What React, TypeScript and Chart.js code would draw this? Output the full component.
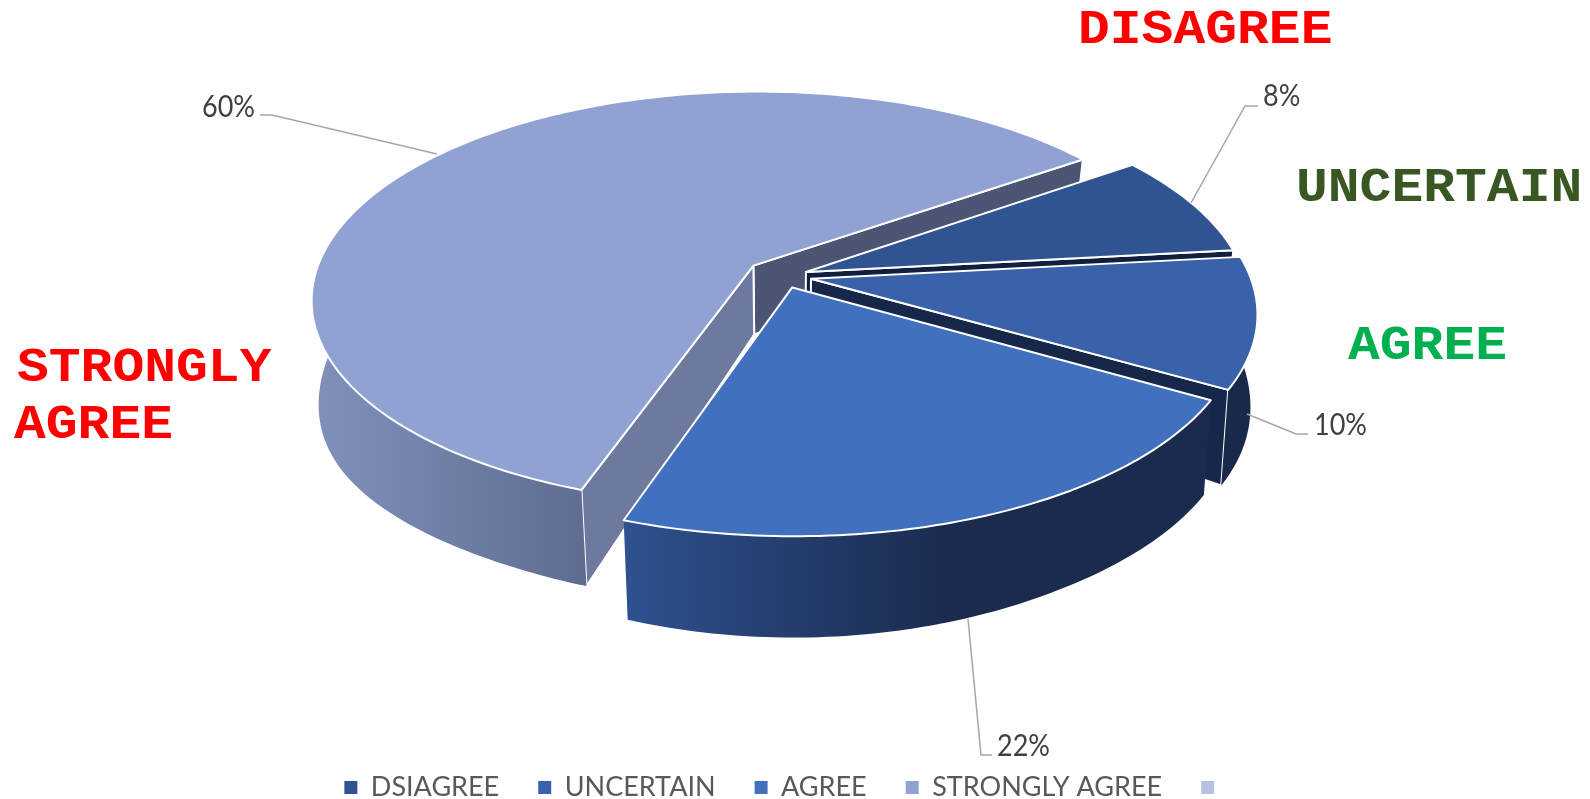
import React, { useEffect, useRef } from "react";
import { Chart, registerables } from "chart.js";

Chart.register(...registerables);

const CATEGORIES = ["DSIAGREE", "UNCERTAIN", "AGREE", "STRONGLY AGREE", ""];
const VALUES = [8, 10, 22, 60, 0];
const PERCENT_LABELS = ["8%", "10%", "22%", "60%"];
const TOP_COLORS = ["#305392", "#3A62AA", "#4170BF", "#8FA2D2", "#B4C1E4"];
const EXPLODE = [0.056, 0.065, 0.059, 0.085, 0];
const OUTER_WALL_STOPS = [
  ["#15254A", "#15254A"],
  ["#18294A", "#18294A"],
  ["#2F518F", "#1A2B4E"],
  ["#8191BC", "#5F6D91"],
  ["#000000", "#000000"],
];
const START_WALL = [null, null, null, "#6D7A9E", null];
const END_WALL = ["#101F3D", "#16274A", null, "#4C5674", null];
const LEADERS = [
  [[1191, 203], [1245, 106], [1258, 106]],
  [[1247, 414], [1296, 434], [1308, 434]],
  [[968, 619], [981, 755], [992, 755]],
  [[437, 154], [272, 115], [260, 115]],
];
const PERCENT_POS = [[1263, 96], [1314, 425], [997, 746], [202, 107]];
const CALLOUTS = [
  { text: "DISAGREE", x: 1078, y: 31, color: "#FF0000" },
  { text: "UNCERTAIN", x: 1296, y: 189, color: "#385723" },
  { text: "AGREE", x: 1348, y: 347, color: "#00B050" },
  { text: "STRONGLY", x: 17, y: 369, color: "#FF0000" },
  { text: "AGREE", x: 14, y: 426, color: "#FF0000" },
];

const VIEW = { cx: 783, cy: 276, R: 439, Rsy: 205, k: 0.16, H: 70, shrink: 0.975, maxShift: 7, sideL: 0.35, sideR: 0.2 };

function project(u: number, v: number, bottom: boolean): [number, number] {
  const w = 1 - VIEW.k * v;
  let x = VIEW.cx + (VIEW.R * u) / w;
  let y = VIEW.cy + (VIEW.Rsy * v) / w;
  if (bottom) {
    const dx = x - VIEW.cx;
    const shift = Math.min(Math.abs(dx) * (1 - VIEW.shrink), VIEW.maxShift);
    x -= Math.sign(dx) * shift;
    const side = 1 + (u < 0 ? VIEW.sideL : VIEW.sideR) * u * u * u * u;
    y += (VIEW.H * side) / (w * w);
  }
  return [x, y];
}

function tracePath(ctx: CanvasRenderingContext2D, pts: [number, number][]) {
  ctx.beginPath();
  pts.forEach((p, i) => (i ? ctx.lineTo(p[0], p[1]) : ctx.moveTo(p[0], p[1])));
  ctx.closePath();
}

function stretchedText(ctx: CanvasRenderingContext2D, t: string, x: number, y: number, sy: number) {
  ctx.save();
  ctx.translate(x, y);
  ctx.scale(1, sy);
  ctx.fillText(t, 0, 0);
  ctx.restore();
}

const pie3d = {
  id: "pie3d",
  beforeDatasetsDraw(chart: any) {
    const ctx: CanvasRenderingContext2D = chart.ctx;
    const arcs = chart.getDatasetMeta(0).data;
    const order = [3, 0, 1, 2];
    ctx.save();
    ctx.lineJoin = "round";
    for (const i of order) {
      const el = arcs[i];
      const { startAngle, endAngle } = el.getProps(["startAngle", "endAngle"], true);
      if (endAngle - startAngle <= 0) continue;
      const mid = (startAngle + endAngle) / 2;
      const ou = EXPLODE[i] * Math.cos(mid);
      const ov = EXPLODE[i] * Math.sin(mid);
      const n = Math.ceil(((endAngle - startAngle) * 180) / Math.PI);
      const top: [number, number][] = [];
      const frontTop: [number, number][] = [];
      const frontBot: [number, number][] = [];
      const bot: [number, number][] = [];
      for (let s = 0; s <= n; s++) {
        const a = startAngle + ((endAngle - startAngle) * s) / n;
        const u = ou + Math.cos(a);
        const v = ov + Math.sin(a);
        const pt = project(u, v, false);
        const pb = project(u, v, true);
        top.push(pt);
        bot.push(pb);
        if (Math.sin(a) > -0.05) {
          frontTop.push(pt);
          frontBot.push(pb);
        }
      }
      const apexT = project(ou, ov, false);
      const apexB = project(ou, ov, true);
      ctx.strokeStyle = "#FFFFFF";
      ctx.lineWidth = 2;
      if (END_WALL[i]) {
        tracePath(ctx, [apexT, top[n], bot[n], apexB]);
        ctx.fillStyle = END_WALL[i] as string;
        ctx.fill();
        ctx.stroke();
      }
      if (START_WALL[i]) {
        tracePath(ctx, [apexT, top[0], bot[0], apexB]);
        ctx.fillStyle = START_WALL[i] as string;
        ctx.fill();
        ctx.stroke();
      }
      if (frontTop.length > 1) {
        const xs = frontTop.map((p) => p[0]);
        const x0 = Math.min(...xs);
        const x1 = Math.max(...xs);
        const g = ctx.createLinearGradient(x0, 0, i === 2 ? x0 + (x1 - x0) * 0.55 : x1, 0);
        g.addColorStop(0, OUTER_WALL_STOPS[i][0]);
        g.addColorStop(1, OUTER_WALL_STOPS[i][1]);
        tracePath(ctx, [...frontTop, ...frontBot.slice().reverse()]);
        ctx.fillStyle = g;
        ctx.fill();
      }
      tracePath(ctx, [apexT, ...top]);
      ctx.fillStyle = el.options.backgroundColor;
      ctx.fill();
      ctx.stroke();
    }
    ctx.restore();
    return false;
  },
  afterDraw(chart: any) {
    const ctx: CanvasRenderingContext2D = chart.ctx;
    ctx.save();
    ctx.strokeStyle = "#A6A6A6";
    ctx.lineWidth = 1.5;
    LEADERS.forEach((l) => {
      ctx.beginPath();
      l.forEach((p, i) => (i ? ctx.lineTo(p[0], p[1]) : ctx.moveTo(p[0], p[1])));
      ctx.stroke();
    });
    ctx.fillStyle = "#404040";
    ctx.font = "27px Lato";
    ctx.textBaseline = "middle";
    ctx.textAlign = "left";
    PERCENT_LABELS.forEach((t, i) => stretchedText(ctx, t, PERCENT_POS[i][0], PERCENT_POS[i][1], 1.12));
    ctx.font = "bold 53px 'Liberation Mono'";
    CALLOUTS.forEach((c) => {
      ctx.fillStyle = c.color;
      stretchedText(ctx, c.text, c.x, c.y, 0.9);
    });
    ctx.restore();
  },
};

export default function App() {
  const ref = useRef<HTMLCanvasElement>(null);
  useEffect(() => {
    const chart = new Chart(ref.current!, {
      type: "pie",
      data: {
        labels: CATEGORIES,
        datasets: [{ data: VALUES, backgroundColor: TOP_COLORS, borderWidth: 0 }],
      },
      options: {
        responsive: false,
        animation: false,
        rotation: 55,
        layout: { padding: { right: 18, bottom: -12 } },
        plugins: {
          tooltip: { enabled: false },
          legend: {
            position: "bottom",
            labels: {
              boxWidth: 13,
              boxHeight: 13,
              padding: 39,
              color: "#595959",
              font: { family: "Lato", size: 27 },
            },
          },
        },
      } as any,
      plugins: [pie3d as any],
    });
    return () => chart.destroy();
  }, []);
  return (
    <div style={{ position: "absolute", left: 0, top: 0, width: 1590, height: 799, overflow: "hidden" }}>
      <canvas ref={ref} width={1590} height={799} style={{ display: "block" }} />
    </div>
  );
}
